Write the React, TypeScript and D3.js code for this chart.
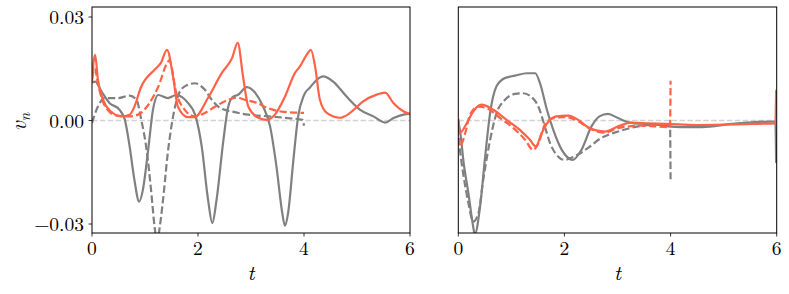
import React from "react";
import * as d3 from "d3";

// ---- data ----
const xTicks = [0, 2, 4, 6];
const yTicks = [0.03, 0.0, -0.03];
const yTickLabels = ["0.03", "0.00", "\u22120.03"];

// left panel
const lOrangeSolidT = [0, 0.03, 0.06, 0.11, 0.21, 0.36, 0.55, 0.71, 0.8, 0.92, 1.18, 1.3, 1.415, 1.53, 1.62, 1.81, 1.94, 2.19, 2.45, 2.64, 2.75, 2.85, 2.95, 3.14, 3.3, 3.45, 3.64, 3.83, 3.92, 4.05, 4.13, 4.21, 4.3, 4.43, 4.68, 4.87, 5.11, 5.37, 5.53, 5.69, 5.88, 6];
const lOrangeSolidV = [0.011, 0.017, 0.019, 0.012, 0.006, 0.0026, 0.0012, 0.0017, 0.004, 0.0095, 0.0147, 0.0167, 0.0205, 0.0127, 0.004, 0.001, 0.001, 0.0066, 0.0138, 0.018, 0.0225, 0.0127, 0.004, 0.0008, 0.0002, 0.0017, 0.0069, 0.0138, 0.0156, 0.019, 0.0205, 0.0156, 0.006, 0.0022, 0.0008, 0.0022, 0.0055, 0.0075, 0.0081, 0.005, 0.0026, 0.0019];

const lOrangeDashT = [0, 0.05, 0.12, 0.25, 0.45, 0.7, 0.87, 1.06, 1.25, 1.43, 1.46, 1.59, 1.75, 1.94, 2.13, 2.32, 2.57, 2.73, 2.89, 3.11, 3.3, 3.58, 4.0];
const lOrangeDashV = [0.012, 0.015, 0.01, 0.004, 0.0015, 0.0012, 0.0017, 0.0045, 0.0098, 0.017, 0.0175, 0.008, 0.0031, 0.0012, 0.0022, 0.004, 0.006, 0.0066, 0.006, 0.0051, 0.0037, 0.0026, 0.0022];

const lGraySolidT = [0, 0.06, 0.18, 0.33, 0.52, 0.62, 0.71, 0.8, 0.89, 0.96, 1.06, 1.15, 1.25, 1.43, 1.59, 1.81, 1.95, 2.07, 2.19, 2.27, 2.35, 2.48, 2.57, 2.67, 2.75, 2.92, 3.08, 3.23, 3.36, 3.48, 3.59, 3.64, 3.7, 3.8, 3.89, 3.99, 4.02, 4.11, 4.24, 4.36, 4.55, 4.8, 5.06, 5.31, 5.53, 5.69, 5.88, 6];
const lGraySolidV = [0.011, 0.0113, 0.0084, 0.0051, 0.0031, 0.0002, -0.0075, -0.0172, -0.0235, -0.0201, -0.0085, 0.0031, 0.0074, 0.0065, 0.0074, 0.0051, 0.0015, -0.0075, -0.023, -0.0297, -0.023, -0.0056, 0.004, 0.007, 0.0074, 0.0097, 0.008, 0.004, -0.0017, -0.0133, -0.0268, -0.0305, -0.0268, -0.0114, 0.0012, 0.007, 0.008, 0.0095, 0.0118, 0.0128, 0.0113, 0.007, 0.0031, 0.0012, -0.0006, 0.0007, 0.0017, 0.0019];

const lGrayDashT = [0, 0.11, 0.24, 0.49, 0.71, 0.84, 0.93, 1.03, 1.12, 1.18, 1.23, 1.28, 1.34, 1.43, 1.53, 1.62, 1.75, 1.94, 2.13, 2.26, 2.42, 2.64, 2.95, 3.33, 3.7, 3.97, 4.0];
const lGrayDashV = [-0.0007, 0.004, 0.0065, 0.0065, 0.0072, 0.006, 0.0002, -0.0085, -0.021, -0.0307, -0.035, -0.0307, -0.023, -0.0094, 0.0012, 0.007, 0.0099, 0.0108, 0.0089, 0.006, 0.0036, 0.0026, 0.0017, 0.0012, 0.0007, 0.0002, -0.0015];

// right panel
const rGraySolidT = [0, 0.05, 0.094, 0.19, 0.28, 0.31, 0.41, 0.5, 0.6, 0.72, 0.88, 1.07, 1.29, 1.45, 1.54, 1.67, 1.79, 1.95, 2.16, 2.32, 2.51, 2.66, 2.82, 3.01, 3.23, 3.51, 3.76, 3.95, 4.21, 4.6, 5.15, 5.9, 5.975, 5.99];
const rGraySolidV = [0.0, -0.005, -0.0114, -0.021, -0.0307, -0.033, -0.025, -0.0114, 0.0022, 0.0099, 0.0123, 0.013, 0.0137, 0.0137, 0.0108, 0.0031, -0.0027, -0.0085, -0.0114, -0.0085, -0.0017, 0.0012, 0.0019, 0.0007, -0.0006, -0.001, -0.0012, -0.0017, -0.0019, -0.0019, -0.001, -0.0003, -0.0003, -0.0123];

const rGrayDashT = [0, 0.09, 0.19, 0.28, 0.38, 0.47, 0.6, 0.72, 0.88, 1.07, 1.22, 1.38, 1.51, 1.63, 1.73, 1.85, 2.0, 2.19, 2.44, 2.69, 3.01, 3.39, 3.76, 3.97, 3.99, 4.0];
const rGrayDashV = [-0.005, -0.0152, -0.0239, -0.0293, -0.0268, -0.0172, -0.0056, 0.0021, 0.006, 0.0077, 0.0079, 0.0068, 0.004, -0.0017, -0.0066, -0.0099, -0.0114, -0.0104, -0.008, -0.0051, -0.0032, -0.0017, -0.0012, -0.0012, -0.0015, -0.017];

const rOrangeSolidT = [0, 0.03, 0.16, 0.28, 0.44, 0.66, 0.91, 1.16, 1.35, 1.46, 1.57, 1.7, 1.85, 2.07, 2.26, 2.44, 2.76, 3.01, 3.26, 3.57, 3.95, 4.5, 5.0, 5.5, 5.975, 5.99];
const rOrangeSolidV = [0.0005, -0.0036, -0.0008, 0.0026, 0.0046, 0.0031, 0.0002, -0.0027, -0.0056, -0.0075, -0.0037, -0.0003, 0.0012, 0.0014, 0.0002, -0.0019, -0.0032, -0.0017, -0.0006, -0.0008, -0.001, -0.0013, -0.0012, -0.001, -0.0008, 0.0089];

const rOrangeDashT = [0, 0.03, 0.13, 0.22, 0.38, 0.53, 0.79, 1.04, 1.26, 1.41, 1.51, 1.63, 1.79, 2.0, 2.26, 2.44, 2.76, 3.01, 3.45, 3.95, 3.99, 4.0];
const rOrangeDashV = [-0.002, -0.0075, -0.0037, 0.0017, 0.004, 0.0036, 0.0007, -0.0022, -0.0056, -0.0085, -0.0066, -0.0012, 0.0007, 0.001, -0.0002, -0.002, -0.0035, -0.0022, -0.0015, -0.0019, -0.0019, 0.0115];

const ORANGE = "#ff6347";
const GRAY = "#808080";
const FONT = '"Latin Modern Roman"';

type Series = { t: number[]; v: number[]; color: string; dash: boolean };

const leftSeries: Series[] = [
  { t: lGrayDashT, v: lGrayDashV, color: GRAY, dash: true },
  { t: lGraySolidT, v: lGraySolidV, color: GRAY, dash: false },
  { t: lOrangeDashT, v: lOrangeDashV, color: ORANGE, dash: true },
  { t: lOrangeSolidT, v: lOrangeSolidV, color: ORANGE, dash: false },
];
const rightSeries: Series[] = [
  { t: rGrayDashT, v: rGrayDashV, color: GRAY, dash: true },
  { t: rGraySolidT, v: rGraySolidV, color: GRAY, dash: false },
  { t: rOrangeDashT, v: rOrangeDashV, color: ORANGE, dash: true },
  { t: rOrangeSolidT, v: rOrangeSolidV, color: ORANGE, dash: false },
];

const TOP = 7;
const BOTTOM = 233;
const txt = (size: number, italic = false): React.CSSProperties => ({
  fontFamily: FONT,
  fontSize: `${size}px`,
  fontStyle: italic ? "italic" : "normal",
});

function Panel({ x0, x1, series, id, showY }: { x0: number; x1: number; series: Series[]; id: string; showY: boolean }) {
  const x = d3.scaleLinear().domain([0, 6]).range([x0, x1]);
  const y = d3.scaleLinear().domain([-0.0326, 0.0329]).range([BOTTOM, TOP]);
  const line = d3
    .line<[number, number]>()
    .x((d) => x(d[0]))
    .y((d) => y(d[1]))
    .curve(d3.curveMonotoneX);
  return (
    <g>
      <defs>
        <clipPath id={id}>
          <rect x={x0} y={TOP} width={x1 - x0} height={BOTTOM - TOP} />
        </clipPath>
      </defs>
      <g clipPath={`url(#${id})`}>
        <line x1={x0} x2={x1} y1={y(0)} y2={y(0)} stroke="#d3d3d3" strokeWidth={1.5} strokeDasharray="5.5,2.4" />
        {series.map((s, i) => (
          <path
            key={i}
            d={line(s.t.map((t, j) => [t, s.v[j]] as [number, number])) || ""}
            fill="none"
            stroke={s.color}
            strokeWidth={2.2}
            strokeDasharray={s.dash ? "7.4,3.2" : undefined}
            strokeLinejoin="round"
          />
        ))}
      </g>
      <rect x={x0} y={TOP} width={x1 - x0} height={BOTTOM - TOP} fill="none" stroke="#000" strokeWidth={1} />
      {xTicks.map((t) => (
        <g key={t}>
          <line x1={x(t)} x2={x(t)} y1={BOTTOM} y2={BOTTOM + 3.5} stroke="#000" strokeWidth={0.8} />
          <text x={x(t)} y={255} textAnchor="middle" style={txt(19.5)}>
            {t}
          </text>
        </g>
      ))}
      <text x={(x0 + x1) / 2} y={280} textAnchor="middle" style={txt(21, true)}>
        t
      </text>
      {showY &&
        yTicks.map((v, i) => (
          <g key={v}>
            <line x1={x0 - 3.5} x2={x0} y1={y(v)} y2={y(v)} stroke="#000" strokeWidth={0.8} />
            <text x={x0 - 8} y={y(v) + 7} textAnchor="end" style={txt(19.5)}>
              {yTickLabels[i]}
            </text>
          </g>
        ))}
    </g>
  );
}

export default function App() {
  return (
    <svg width={789} height={294} style={{ position: "absolute", left: 0, top: 0, background: "#fff" }}>
      <rect x={0} y={0} width={789} height={294} fill="#fff" />
      <Panel x0={92} x1={410} series={leftSeries} id="clipL" showY={true} />
      <Panel x0={458.3} x1={776.7} series={rightSeries} id="clipR" showY={false} />
      <text transform="translate(26,122) rotate(-90)" textAnchor="middle" style={txt(22, true)}>
        v<tspan style={{ fontSize: "15px" }} dy={4}>n</tspan>
      </text>
    </svg>
  );
}
